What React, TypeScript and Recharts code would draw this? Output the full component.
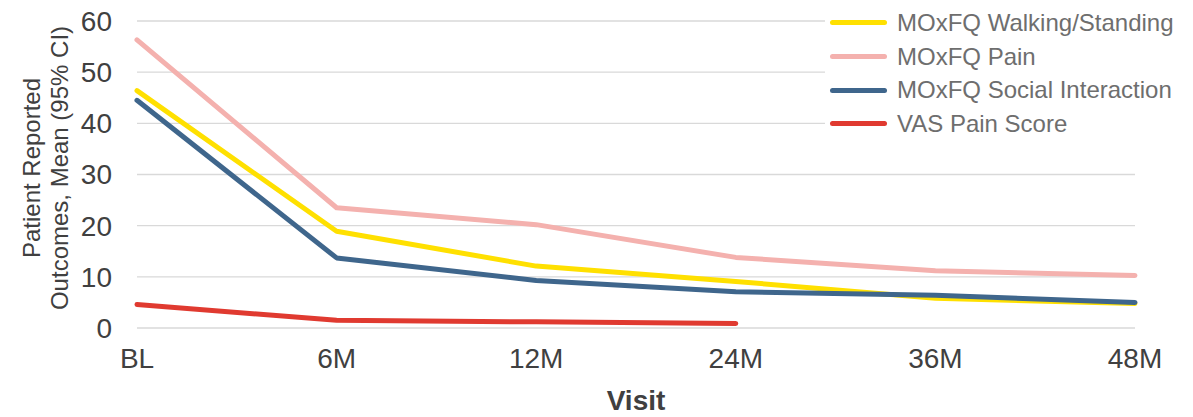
import React from 'react';
import { LineChart, Line, XAxis, YAxis, CartesianGrid } from 'recharts';

const visits = ['BL', '6M', '12M', '24M', '36M', '48M'];
const walkingStanding = [46.4, 18.9, 12.1, 9.1, 5.8, 4.8];
const moxfqPain = [56.3, 23.5, 20.2, 13.8, 11.2, 10.25];
const socialInteraction = [44.5, 13.7, 9.3, 7.1, 6.4, 5.0];
const vasPain: (number | null)[] = [4.6, 1.5, 1.2, 0.9, null, null];
const yTicks = [0, 10, 20, 30, 40, 50, 60];

const seriesList = [
  { key: 'walking', name: 'MOxFQ Walking/Standing', color: '#FFE000', values: walkingStanding },
  { key: 'pain', name: 'MOxFQ Pain', color: '#F4B1AE', values: moxfqPain },
  { key: 'social', name: 'MOxFQ Social Interaction', color: '#3F668C', values: socialInteraction },
  { key: 'vas', name: 'VAS Pain Score', color: '#E03A30', values: vasPain },
];

const data = visits.map((v, i) => {
  const row: Record<string, any> = { visit: v };
  seriesList.forEach((s) => {
    row[s.key] = s.values[i];
  });
  return row;
});

const FONT = '"Liberation Sans", Arial, sans-serif';

export default function App() {
  return (
    <div style={{ position: 'absolute', top: 0, left: 0, width: 1193, height: 417, background: '#fff', fontFamily: FONT }}>
      <LineChart width={1193} height={417} data={data} margin={{ top: 21, right: 58, left: 0, bottom: 0 }}>
        <CartesianGrid vertical={false} stroke="#D9D9D9" strokeWidth={1.4} />
        <XAxis
          dataKey="visit"
          height={89}
          axisLine={false}
          tickLine={false}
          tickSize={6}
          tickMargin={14}
          tick={{ fill: '#404040', fontSize: 28, fontFamily: FONT }}
          interval={0}
          label={{
            content: (props: any) => {
              const vb = props.viewBox || {};
              return (
                <text x={vb.x + vb.width / 2} y={410} textAnchor="middle" fill="#404040" fontSize={28} fontWeight="bold" fontFamily={FONT}>
                  Visit
                </text>
              );
            },
          }}
        />
        <YAxis
          width={137}
          domain={[0, 60]}
          ticks={yTicks}
          axisLine={false}
          tickLine={false}
          tickSize={6}
          tickMargin={19}
          tick={{ fill: '#404040', fontSize: 28, fontFamily: FONT }}
          label={{
            content: () => (
              <text transform="translate(40,168) rotate(-90)" textAnchor="middle" fill="#404040" fontSize={24} fontFamily={FONT}>
                <tspan x={0} y={0}>Patient Reported</tspan>
                <tspan x={0} y={28}>Outcomes, Mean (95% CI)</tspan>
              </text>
            ),
          }}
        />
        {seriesList.map((s) => (
          <Line
            key={s.key}
            type="linear"
            dataKey={s.key}
            name={s.name}
            stroke={s.color}
            strokeWidth={5}
            strokeLinecap="round"
            strokeLinejoin="round"
            dot={false}
            activeDot={false}
            isAnimationActive={false}
          />
        ))}
      </LineChart>
      <div
        style={{
          position: 'absolute',
          left: 825,
          top: 4,
          width: 360,
          background: '#fff',
          paddingTop: 2,
          paddingBottom: 6,
        }}
      >
        {seriesList.map((s) => (
          <div key={s.key} style={{ display: 'flex', alignItems: 'center', height: 33.7 }}>
            <div style={{ width: 57, height: 5, borderRadius: 3, background: s.color, marginLeft: 5, marginRight: 10 }} />
            <span style={{ fontSize: 24, color: '#6E6E6E', fontFamily: FONT, whiteSpace: 'nowrap', lineHeight: '24px' }}>{s.name}</span>
          </div>
        ))}
      </div>
    </div>
  );
}
